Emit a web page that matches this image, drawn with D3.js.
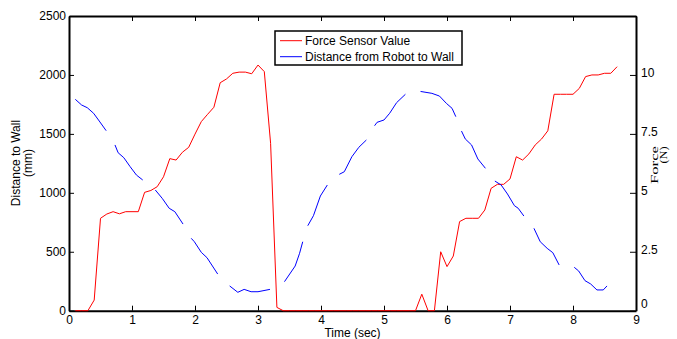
<!DOCTYPE html>
<html>
<head>
<meta charset="utf-8">
<script src="https://cdnjs.cloudflare.com/ajax/libs/d3/7.8.5/d3.min.js"></script>
<style>
  body { margin: 0; background: #fff; }
  text { font-family: "Liberation Sans", Arial, sans-serif; }
</style>
</head>
<body>
<div id="chart"></div>
<script>
// force sensor readings (N), one every 0.1 sec
var forceTime = [0.1, 0.2, 0.3, 0.4, 0.5, 0.6, 0.7, 0.8, 0.9, 1.0,
                 1.1, 1.2, 1.3, 1.4, 1.5, 1.6, 1.7, 1.8, 1.9, 2.0,
                 2.1, 2.2, 2.3, 2.4, 2.5, 2.6, 2.7, 2.8, 2.9, 3.0,
                 3.1, 3.2, 3.3, 3.4, 3.5, 3.6, 3.7, 3.8, 3.9, 4.0,
                 4.1, 4.2, 4.3, 4.4, 4.5, 4.6, 4.7, 4.8, 4.9, 5.0,
                 5.1, 5.2, 5.3, 5.4, 5.5, 5.6, 5.7, 5.8, 5.9, 6.0,
                 6.1, 6.2, 6.3, 6.4, 6.5, 6.6, 6.7, 6.8, 6.9, 7.0,
                 7.1, 7.2, 7.3, 7.4, 7.5, 7.6, 7.7, 7.8, 7.9, 8.0,
                 8.1, 8.2, 8.3, 8.4, 8.5, 8.6, 8.7];
var forceValue = [0, 0, 0, 0.45, 3.92, 4.1, 4.2, 4.11, 4.2, 4.2,
                  4.2, 5.02, 5.1, 5.26, 5.68, 6.45, 6.39, 6.72, 6.93, 7.49,
                  8.02, 8.33, 8.63, 9.67, 9.83, 10.07, 10.12, 10.12, 10.05, 10.42,
                  10.14, 7.1, 0.14, 0, 0, 0, 0, 0, 0, 0,
                  0, 0, 0, 0, 0, 0, 0, 0, 0, 0,
                  0, 0, 0, 0, 0, 0.7, 0, 0, 2.5, 1.87,
                  2.32, 3.78, 3.92, 3.92, 3.92, 4.27, 5.19, 5.36, 5.36, 5.59,
                  6.53, 6.39, 6.65, 7.03, 7.28, 7.63, 9.18, 9.18, 9.18, 9.18,
                  9.43, 9.93, 10.0, 10.0, 10.07, 10.07, 10.35];

// distance readings (mm), null = missed reading
var distTime = [0.10, 0.20, 0.29, 0.39, 0.48, 0.59, 0.66,
                0.73, 0.78, 0.87, 0.97, 1.07, 1.17, 1.27,
                1.37, 1.48, 1.59, 1.68, 1.81, 1.87,
                1.94, 1.99, 2.10, 2.19, 2.36, 2.45,
                2.55, 2.68, 2.78, 2.89, 3.00, 3.19, 3.30,
                3.42, 3.59, 3.66, 3.71, 3.75,
                3.79, 3.88, 3.99, 4.10, 4.20,
                4.29, 4.37, 4.49, 4.60, 4.72, 4.78,
                4.85, 4.89, 5.00, 5.09, 5.20, 5.34, 5.46,
                5.58, 5.76, 5.88, 5.99, 6.08, 6.14, 6.19,
                6.23, 6.29, 6.39, 6.49, 6.61, 6.68,
                6.76, 6.86, 6.96, 7.07, 7.13, 7.22, 7.30,
                7.38, 7.48, 7.59, 7.68, 7.78, 7.90,
                8.02, 8.09, 8.19, 8.28, 8.38, 8.48, 8.54];
var distValue = [1793, 1745, 1722, 1675, 1609, 1527, null,
                 1406, 1340, 1298, 1222, 1151, 1109, null,
                 1024, 953, 869, 840, 735, null,
                 614, 585, 495, 450, 311, null,
                 210, 156, 181, 161, 161, 181, null,
                 246, 379, 487, 585, null,
                 721, 806, 973, 1066, null,
                 1157, 1179, 1306, 1386, 1448, null,
                 1569, 1598, 1618, 1675, 1765, 1836, null,
                 1860, 1844, 1821, 1759, 1717, 1646, null,
                 1524, 1457, 1406, 1287, 1208, null,
                 1100, 1066, 990, 891, 869, 803, null,
                 699, 585, 529, 492, 388, null,
                 368, 337, 255, 227, 176, 176, 210];

var xTicks = [0, 1, 2, 3, 4, 5, 6, 7, 8, 9];
var distTicks = [0, 500, 1000, 1500, 2000, 2500];
var forceTicks = [0, 2.5, 5, 7.5, 10];

var width = 677,
    height = 339,
    margin = {top: 16, left: 69, right: 41, bottom: 28.3};

var plotWidth = width - margin.left - margin.right,
    plotHeight = height - margin.top - margin.bottom;

var svg = d3.select("#chart")
            .append("svg")
            .attr("width", width)
            .attr("height", height);

var g = svg.append("g")
           .attr("transform", "translate(" + margin.left + "," + margin.top + ")");

// scales
var xScale = d3.scaleLinear().domain([0, 9]).range([0, plotWidth]);
var yDist = d3.scaleLinear().domain([0, 2500]).range([plotHeight, 0]);
var yForce = d3.scaleLinear().domain([0, 12.5]).range([plotHeight, 0]);

var plain = function(d) { return String(d); };

// top frame line with ticks pointing down
g.append("g")
 .attr("class", "top-axis")
 .call(d3.axisTop(xScale).tickValues(xTicks).tickSizeInner(-5).tickSizeOuter(0).tickFormat(""));

// bottom axis, ticks pointing inward
g.append("g")
 .attr("class", "x-axis")
 .attr("transform", "translate(0," + plotHeight + ")")
 .call(d3.axisBottom(xScale).tickValues(xTicks).tickFormat(plain)
         .tickSizeInner(-5).tickSizeOuter(0).tickPadding(5));

// left axis (distance)
g.append("g")
 .attr("class", "y-axis")
 .call(d3.axisLeft(yDist).tickValues(distTicks).tickFormat(plain)
         .tickSizeInner(-5).tickSizeOuter(0).tickPadding(3));

// right axis (force)
var rightAxis = g.append("g")
 .attr("class", "y2-axis")
 .attr("transform", "translate(" + plotWidth + ",0)")
 .call(d3.axisRight(yForce).tickValues(forceTicks).tickFormat(plain)
         .tickSizeInner(-6).tickSizeOuter(0).tickPadding(5));

rightAxis.selectAll(".tick text")
         .attr("dy", function(d) { return d === 0 ? "-0.3em" : "0.12em"; });

g.selectAll(".domain")
 .attr("stroke", "#000")
 .attr("stroke-width", 2);
g.selectAll(".tick line")
 .attr("stroke", "#000")
 .attr("stroke-width", 1);
g.selectAll(".tick text")
 .attr("fill", "#000")
 .style("font-size", "12px")
 .style("font-family", "'Liberation Sans', Arial, sans-serif");

// force line (red)
var forceLine = d3.line()
                  .x(function(d, i) { return xScale(forceTime[i]); })
                  .y(function(d) { return yForce(d); });

g.append("path")
 .datum(forceValue)
 .attr("fill", "none")
 .attr("stroke", "#ff0000")
 .attr("stroke-width", 1)
 .attr("d", forceLine);

// distance line (blue), broken where readings are missing
var distLine = d3.line()
                 .defined(function(d) { return d !== null; })
                 .x(function(d, i) { return xScale(distTime[i]); })
                 .y(function(d) { return yDist(d); });

g.append("path")
 .datum(distValue)
 .attr("fill", "none")
 .attr("stroke", "#0000ff")
 .attr("stroke-width", 1)
 .attr("d", distLine);

// axis titles
svg.append("text")
   .attr("x", margin.left + plotWidth / 2)
   .attr("y", 337)
   .attr("text-anchor", "middle")
   .style("font-size", "12px")
   .text("Time (sec)");

var leftTitle = svg.append("text")
                   .attr("transform", "translate(20,163) rotate(-90)")
                   .attr("text-anchor", "middle")
                   .style("font-size", "12px");
leftTitle.append("tspan").attr("x", 0).attr("y", 0).text("Distance to Wall");
leftTitle.append("tspan").attr("x", 0).attr("y", 12).text("(mm)");

var rightTitle = svg.append("text")
                    .attr("transform", "translate(658,165) rotate(-90)")
                    .attr("text-anchor", "middle")
                    .style("font-family", "'Liberation Serif', 'Times New Roman', serif")
                    .style("font-size", "10px");
rightTitle.append("tspan").attr("x", 0).attr("y", 0)
          .attr("textLength", 38).attr("lengthAdjust", "spacingAndGlyphs").text("Force");
rightTitle.append("tspan").attr("x", 10).attr("y", 9)
          .attr("textLength", 17).attr("lengthAdjust", "spacingAndGlyphs").text("(N)");

// legend
var legend = svg.append("g").attr("class", "legend");
legend.append("rect")
      .attr("x", 275)
      .attr("y", 31)
      .attr("width", 187)
      .attr("height", 34)
      .attr("fill", "#fff")
      .attr("stroke", "#000")
      .attr("stroke-width", 1.5);

var legendItems = [{name: "Force Sensor Value", color: "#ff0000"},
                   {name: "Distance from Robot to Wall", color: "#0000ff"}];

legend.selectAll(".legend-line")
      .data(legendItems)
      .enter()
      .append("line")
      .attr("x1", 280)
      .attr("x2", 302)
      .attr("y1", function(d, i) { return 40.7 + i * 16; })
      .attr("y2", function(d, i) { return 40.7 + i * 16; })
      .attr("stroke", function(d) { return d.color; })
      .attr("stroke-width", 1);

legend.selectAll(".legend-text")
      .data(legendItems)
      .enter()
      .append("text")
      .attr("x", 305)
      .attr("y", function(d, i) { return 40.7 + i * 16; })
      .attr("dy", "0.35em")
      .style("font-size", "12px")
      .text(function(d) { return d.name; });
</script>
</body>
</html>
